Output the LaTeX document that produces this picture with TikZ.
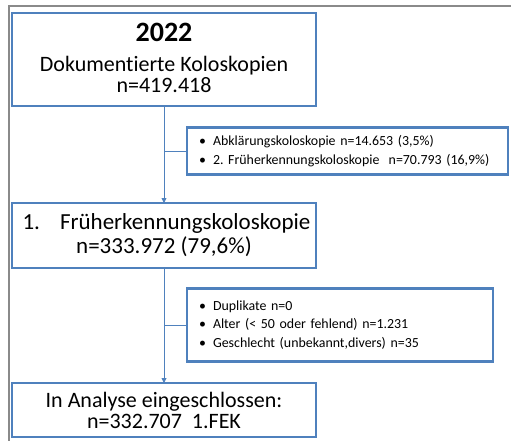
\documentclass[tikz,border=0pt]{standalone}
\usepackage{fontspec}
\setmainfont{Carlito}[Ligatures=NoCommon]
\usetikzlibrary{arrows.meta, positioning, calc}
\definecolor{boxC}  {RGB}{ 79, 129, 189}
\definecolor{frameC}{RGB}{138, 138, 138}
\newcommand{\bitem}{\makebox[14pt][l]{\textbullet}}
\frenchspacing
\tikzset{
  mainbox/.style = {rectangle, draw=boxC, line width=2.2pt, fill=white, align=center,
                    font=\fontsize{22}{21}\selectfont, minimum width=304pt,
                    inner sep=2pt, outer sep=0pt},
  sidebox/.style = {rectangle, draw=boxC, line width=2.2pt, fill=white, align=left,
                    font=\fontsize{13.9}{18.5}\selectfont, inner xsep=12pt, inner ysep=3pt,
                    outer sep=0pt},
  arr/.style     = {-{Triangle[length=5pt, width=5pt]}, line width=0.9pt, draw=boxC},
  lnk/.style     = {line width=0.9pt, draw=boxC},
  frame/.style   = {draw=frameC, line width=2.2pt},
}

\begin{document}
\begin{tikzpicture}[x=1pt, y=-1pt]
\useasboundingbox (0,0) rectangle (511,441);

% ---- Screenshot frame -------------------------------------------------------
\draw[frame] (9,441) -- (9,6) -- (511,6);

% ---- Main column ------------------------------------------------------------
\node[mainbox, minimum height=93pt, anchor=north west] (Tot) at (12,13)
  {{\fontsize{28}{28}\selectfont\bfseries 2022}\\[9pt]
   Dokumentierte Koloskopien\\ n=419.418\rule[-4pt]{0pt}{4pt}};

\node[mainbox, minimum height=65pt, below=97pt of Tot,
      font=\fontsize{23}{24}\selectfont] (Fek1)
  {\hspace*{5pt}1.\hspace{20pt}Früherkennungskoloskopie\\ n=333.972 (79,6\%)};

\node[mainbox, minimum height=54pt, below=115pt of Fek1] (Incl)
  {In Analyse eingeschlossen:\\ n=332.707\ \ 1.FEK};

% ---- Side boxes (excluded) --------------------------------------------------
\coordinate (J1) at ($(Tot.south)+(0,-45pt)$);
\coordinate (J2) at ($(Fek1.south)+(0,-57pt)$);

\node[sidebox, text width=297pt, minimum height=47pt, right=23pt of J1] (Excl1)
  {\bitem Abklärungskoloskopie n=14.653 (3,5\%)\\
   \bitem 2. Früherkennungskoloskopie\ \ n=70.793 (16,9\%)};

\node[sidebox, text width=282pt, minimum height=73pt, right=23pt of J2] (Excl2)
  {\bitem Duplikate n=0\\
   \bitem Alter (< 50 oder fehlend) n=1.231\\
   \bitem Geschlecht (unbekannt,divers) n=35};

% ---- Arrows -----------------------------------------------------------------
\draw[arr] (Tot)  -- (Fek1);
\draw[arr] (Fek1) -- (Incl);
\draw[lnk] (J1) -- (Excl1.west);
\draw[lnk] (J2) -- (Excl2.west);

\end{tikzpicture}
\end{document}
